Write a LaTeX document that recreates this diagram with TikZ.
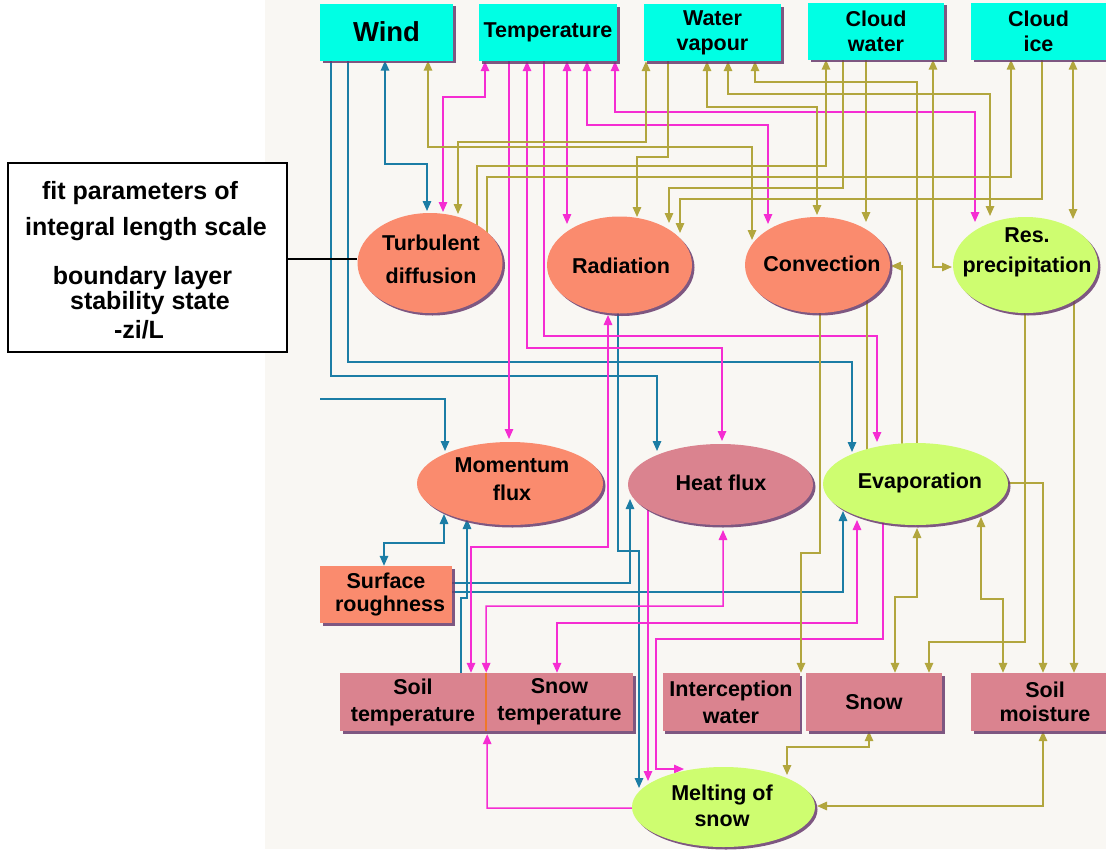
\documentclass[tikz,border=0pt]{standalone}
\usepackage{fontspec}
\setmainfont{Liberation Sans}
\usetikzlibrary{arrows.meta,shapes.geometric,shadows,calc}
\pgfdeclarelayer{paper}
\pgfdeclarelayer{wires}
\pgfsetlayers{paper,wires,main}
\definecolor{cyanb}{RGB}{0,255,228}
\definecolor{salm}{RGB}{250,139,110}
\definecolor{mauve}{RGB}{218,131,143}
\definecolor{lime}{RGB}{206,253,112}
\definecolor{shade}{RGB}{105,60,110}
\definecolor{wblue}{RGB}{28,125,165}
\definecolor{wmag}{RGB}{245,45,210}
\definecolor{wolive}{RGB}{178,166,62}
\definecolor{paperc}{RGB}{249,247,243}
\definecolor{divor}{RGB}{240,120,40}
\tikzset{
  shd/.style={drop shadow={shadow xshift=2.5pt,shadow yshift=-2.5pt,fill=shade,opacity=0.85}},
  topbox/.style={rectangle,fill=cyanb,shd,minimum height=57pt,inner sep=0pt,align=center,
    font=\bfseries\fontsize{21.5}{25}\selectfont},
  lowbox/.style={rectangle,fill=mauve,shd,minimum height=58pt,inner sep=0pt,align=center,
    font=\bfseries\fontsize{21.5}{27}\selectfont},
  ellnode/.style={ellipse,inner sep=0pt,shd},
  txt/.style={font=\bfseries\fontsize{21.5}{#1}\selectfont,align=center,inner sep=0pt},
  txt/.default=26,
  ltxt/.style={font=\bfseries\fontsize{25}{30}\selectfont,inner sep=0pt},
  wireB/.style={draw=wblue,line width=1.5pt},
  wireM/.style={draw=wmag,line width=1.5pt},
  wireO/.style={draw=wolive,line width=1.5pt},
  tipE/.style={-{Triangle[length=10pt,width=8.5pt]}},
  tipB/.style={{Triangle[length=10pt,width=8.5pt]}-{Triangle[length=10pt,width=8.5pt]}},
}
\begin{document}
\begin{tikzpicture}[x=1pt,y=-1pt]
\useasboundingbox (0,0) rectangle (1106,849);
\begin{pgfonlayer}{paper}
  \fill[white] (0,0) rectangle (1106,849);
  \fill[paperc] (265,0) rectangle (1106,849);
\end{pgfonlayer}

% top state boxes
\node[topbox,minimum width=133pt,font=\bfseries\fontsize{27.5}{30}\selectfont] (wind) at (386.5,32) {Wind};
\node[topbox,minimum width=138pt] (temp) at (548,32.5) {Temperature};
\node[topbox,minimum width=137pt] (wv) at (712.5,32.5) {Water\\vapour};
\node[topbox,minimum width=136pt] (cw) at (876,31) {Cloud\\water};
\node[topbox,minimum width=135pt] (ci) at (1038.5,31) {Cloud\\ice};

% process ellipses
\node[ellnode,fill=salm,minimum width=145pt,minimum height=100pt] (td) at (430,263) {};
\node[ellnode,fill=salm,minimum width=145pt,minimum height=97pt] (rad) at (619.5,265) {};
\node[ellnode,fill=salm,minimum width=145pt,minimum height=96pt] (conv) at (817.5,265) {};
\node[ellnode,fill=lime,minimum width=145pt,minimum height=96pt] (resp) at (1025.5,265) {};
\node[ellnode,fill=salm,minimum width=186pt,minimum height=83pt] (mom) at (510,483.5) {};
\node[ellnode,fill=mauve,minimum width=185pt,minimum height=81pt] (heat) at (720.5,484.5) {};
\node[ellnode,fill=lime,minimum width=185pt,minimum height=82pt] (evap) at (915.5,484) {};
\node[ellnode,fill=lime,minimum width=183pt,minimum height=80pt] (melt) at (723.5,807) {};

\node[txt=33] (tdt) at (431,259) {Turbulent\\diffusion};
\node[txt] (radt) at (621,266) {Radiation};
\node[txt] (convt) at (822,264) {Convection};
\node[txt=30] (respt) at (1027,252) {Res.\\precipitation};
\node[txt=28] (momt) at (512,479) {Momentum\\flux};
\node[txt] (heatt) at (721,483) {Heat flux};
\node[txt] (evapt) at (920,483) {Evaporation};
\node[txt] (meltt) at (722,806) {Melting of\\snow};

% lower boxes
\node[lowbox,fill=salm,minimum width=132pt,minimum height=57pt,font=\bfseries\fontsize{21.5}{23}\selectfont] (surf) at (386,594.5) {Surface\\\hspace*{8pt}roughness};
\node[lowbox,minimum width=146pt] (soilt) at (413,702) {Soil\\temperature};
\node[lowbox,minimum width=147pt] (snowt) at (559.5,702) {Snow\\temperature};
\node[lowbox,minimum width=137pt] (intw) at (731,702) {Interception\\water};
\node[lowbox,minimum width=136pt] (snow) at (874,702) {Snow};
\node[lowbox,minimum width=148pt,font=\bfseries\fontsize{21.5}{24}\selectfont] (soilm) at (1045,702) {Soil\\moisture};
\draw[divor,line width=1.5pt] (soilt.north east) -- (soilt.south east);

% left annotation box
\node[draw=black,line width=2.5pt,fill=white,minimum width=279pt,minimum height=189pt,inner sep=0pt] (lbox) at (147.5,257.5) {};
\node[ltxt] (l1) at (140,193) {fit parameters of};
\node[ltxt] (l2) at (146,229) {integral length scale};
\node[ltxt] (l3) at (142.5,278) {boundary layer};
\node[ltxt] (l4) at (150,303) {stability state};
\node[ltxt] (l5) at (139,330) {-zi/L};
\draw[line width=2.5pt] (lbox.east |- 0,259) -- (td.west |- 0,259);

\coordinate (b4free) at (320,399);

\begin{pgfonlayer}{wires}
% blue connectors
\draw[wireB,tipE] (wind.south -| 331,0) -- (331,376) -- (657,376) -- ($(heat)+(-63.5,-33.5)$);
\draw[wireB,tipE] (wind.south -| 348,0) -- (348,362) -- (852,362) -- ($(evap)+(-63.5,-32)$);
\draw[wireB,tipB] (wind.south -| 385,0) -- (385,164) -- (427,164) -- ($(td)+(-3,-52)$);
\draw[wireB,tipE] (b4free) -- (445,399) -- ($(mom)+(-65,-32.5)$);
\draw[wireB,tipB] ($(mom)+(-66,30.5)$) -- (444,543) -- (384,543) -- (surf.north -| 384,0);
\draw[wireB,tipE] (soilt.north -| 461,0) -- (461,598) -- (467,598) -- ($(mom)+(-43,35.5)$);
\draw[wireB,tipE] (surf.east |- 0,583) -- (630,583) -- ($(heat)+(-90.5,14.5)$);
\draw[wireB,tipE] (surf.east |- 0,592) -- (843,592) -- ($(evap)+(-72.5,27)$);
\draw[wireB,tipE] ($(rad)+(-1.5,0)$) -- (618,551) -- (639,551) -- ($(melt)+(-84.5,-19)$);

% magenta connectors
\draw[wireM,tipB] (temp.south -| 485,0) -- (485,97) -- (443,97) -- ($(td)+(13,-51)$);
\draw[wireM,tipE] (temp.south -| 509,0) -- ($(mom)+(-1,-44.5)$);
\draw[wireM,tipB] (temp.south -| 527,0) -- (527,348) -- (722,348) -- ($(heat)+(1.5,-43.5)$);
\draw[wireM,tipE] (temp.south -| 544,0) -- (544,336) -- (877,336) -- ($(evap)+(-38.5,-42)$);
\draw[wireM,tipB] (temp.south -| 567,0) -- ($(rad)+(-52.5,-41)$);
\draw[wireM,tipB] (temp.south -| 587,0) -- (587,125) -- (768,125) -- ($(conv)+(-49.5,-41)$);
\draw[wireM,tipB] (temp.south -| 615,0) -- (615,112) -- (975,112) -- ($(resp)+(-50.5,-43)$);
\draw[wireM,tipB] ($(rad)+(-11.5,50)$) -- (608,547) -- (471,547) -- (soilt.north -| 471,0);
\draw[wireM,tipB] ($(heat)+(2.5,45.5)$) -- (723,606) -- (486,606) -- (soilt.north east);
\draw[wireM,tipB] ($(evap)+(-58.5,36)$) -- (857,623) -- (557,623) -- (snowt.north -| 557,0);
\draw[wireM,tipE] ($(heat)+(-72.5,0)$) -- ($(melt)+(-75.5,-26)$);
\draw[wireM,tipE] ($(evap)+(-32.5,0)$) -- (883,639) -- (656,639) -- (656,769) -- ($(melt)+(-39.5,-38)$);
\draw[wireM,tipE] ($(melt)+(-60,1)$) -- (487,808) -- ($(soilt.south east)+(1,3)$);

% olive connectors
\draw[wireO,tipB] (wind.south -| 428,0) -- (428,147) -- (752,147) -- ($(conv)+(-65.5,-25)$);
\draw[wireO,tipB] (wv.south -| 646,0) -- (646,142) -- (458,142) -- ($(td)+(28,-49)$);
\draw[wireO,tipE] (wv.south -| 668,0) -- (668,157) -- (637,157) -- ($(rad)+(17.5,-48)$);
\draw[wireO,tipE] ($(td)+(47,0)$) -- (477,166) -- (826,166) -- (cw.south -| 826,0);
\draw[wireO,tipE] ($(td)+(57,0)$) -- (487,177) -- (1011,177) -- (ci.south -| 1011,0);
\draw[wireO,tipE] (cw.south -| 843,0) -- (843,188) -- (669,188) -- ($(rad)+(49.5,-42)$);
\draw[wireO,tipE] (ci.south -| 1042,0) -- (1042,199) -- (680,199) -- ($(rad)+(60.5,-32)$);
\draw[wireO,tipB] (wv.south -| 707,0) -- (707,107) -- (817,107) -- ($(conv)+(-0.5,-50)$);
\draw[wireO,tipB] (wv.south -| 728,0) -- (728,94) -- (990,94) -- ($(resp)+(-35.5,-49)$);
\draw[wireO,tipE] ($(evap)+(1.5,0)$) -- (917,82) -- (755,82) -- (wv.south -| 755,0);
\draw[wireO,tipE] (cw.south -| 866,0) -- ($(conv)+(48.5,-43)$);
\draw[wireO,tipB] (cw.south -| 933,0) -- (933,267) -- ($(resp)+(-73.5,2)$);
\draw[wireO,tipB] (ci.south -| 1073,0) -- ($(resp)+(47.5,-46)$);
\draw[wireO,tipE] ($(evap)+(-13.5,0)$) -- (902,266) -- ($(conv)+(73.5,1)$);
\draw[wireO] ($(conv)+(49.5,0)$) -- ($(evap)+(-48.5,0)$);
\draw[wireO,tipE] ($(conv)+(2.5,0)$) -- (820,553) -- (801,553) -- (intw.north -| 801,0);
\draw[wireO,tipB] ($(evap)+(1.5,44)$) -- (917,597) -- (895,597) -- (snow.north -| 895,0);
\draw[wireO,tipE] ($(resp)+(-0.5,0)$) -- (1025,642) -- (929,642) -- (snow.north -| 929,0);
\draw[wireO,tipB] ($(evap)+(65.5,33)$) -- (981,599) -- (1003,599) -- (soilm.north -| 1003,0);
\draw[wireO,tipE] ($(evap)+(80,-1)$) -- (1043,483) -- (soilm.north -| 1043,0);
\draw[wireO,tipE] ($(resp)+(48.5,0)$) -- (soilm.north -| 1074,0);
\draw[wireO,tipB] (snow.south -| 869,0) -- (869,747) -- (787,747) -- ($(melt)+(63.5,-32)$);
\draw[wireO,tipB] (soilm.south -| 1043,0) -- (1043,806) -- ($(melt)+(93.5,-1)$);
\end{pgfonlayer}
\end{tikzpicture}
\end{document}
